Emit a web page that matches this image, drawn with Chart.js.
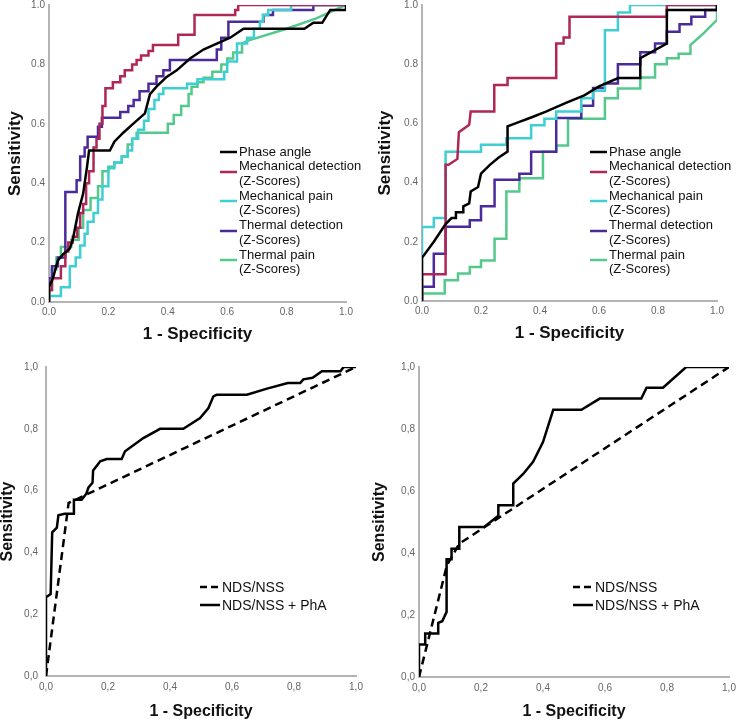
<!DOCTYPE html>
<html>
<head>
<meta charset="utf-8">
<script src="https://cdn.jsdelivr.net/npm/chart.js@4.4.1/dist/chart.umd.min.js"></script>
<style>
  body { margin: 0; background: #fff; width: 737px; height: 725px; position: relative; overflow: hidden; font-family: "Liberation Sans", Arial, sans-serif; }
  .panel { position: absolute; }
  .panel canvas { display: block; }
  .legend { position: absolute; color: #111; }
  .entry { position: relative; white-space: nowrap; }
  .entry svg { position: absolute; left: 0; }
</style>
</head>
<body>
<div class="panel" style="left:0;top:0"><canvas id="c1" width="360" height="352"></canvas><div class="legend" id="l1"></div></div>
<div class="panel" style="left:370px;top:0"><canvas id="c2" width="360" height="351"></canvas><div class="legend" id="l2"></div></div>
<div class="panel" style="left:0;top:360px"><canvas id="c3" width="366" height="360"></canvas><div class="legend" id="l3"></div></div>
<div class="panel" style="left:370px;top:360px"><canvas id="c4" width="367" height="360"></canvas><div class="legend" id="l4"></div></div>
<script>
// tick labels
const ticksDot = ['0.0', '0.2', '0.4', '0.6', '0.8', '1.0'];
const ticksComma = ['0,0', '0,2', '0,4', '0,6', '0,8', '1,0'];

// series names (top row) and colours
const qstNames = [['Phase angle'], ['Mechanical detection', '(Z-Scores)'], ['Mechanical pain', '(Z-Scores)'], ['Thermal detection', '(Z-Scores)'], ['Thermal pain', '(Z-Scores)']];
const qstColors = ['#000000', '#ae2756', '#3fcfd2', '#4b2b9c', '#55c98c'];
const ndsNames = ['NDS/NSS', 'NDS/NSS + PhA'];

// top left panel: [1 - specificity, sensitivity]
const aPhase = [[0,0],[0,0.05],[0.013,0.08],[0.03,0.14],[0.047,0.16],[0.07,0.18],[0.08,0.21],[0.098,0.30],[0.115,0.365],[0.128,0.455],[0.135,0.51],[0.205,0.51],[0.22,0.54],[0.25,0.57],[0.283,0.60],[0.323,0.635],[0.34,0.70],[0.362,0.725],[0.396,0.758],[0.43,0.78],[0.475,0.82],[0.52,0.85],[0.565,0.87],[0.61,0.89],[0.655,0.92],[0.86,0.92],[0.89,0.94],[0.92,0.94],[0.936,0.966],[0.947,0.983],[1,0.983],[1,1]];
const aMechDet = [[0,0],[0,0.04],[0.01,0.04],[0.01,0.08],[0.04,0.08],[0.04,0.12],[0.055,0.12],[0.055,0.17],[0.065,0.17],[0.065,0.2],[0.08,0.2],[0.08,0.22],[0.095,0.22],[0.095,0.25],[0.105,0.25],[0.105,0.3],[0.115,0.3],[0.115,0.33],[0.125,0.33],[0.125,0.4],[0.135,0.4],[0.135,0.44],[0.15,0.44],[0.15,0.52],[0.16,0.52],[0.16,0.55],[0.17,0.55],[0.17,0.6],[0.18,0.6],[0.18,0.66],[0.19,0.66],[0.19,0.72],[0.215,0.72],[0.215,0.74],[0.24,0.74],[0.24,0.76],[0.255,0.76],[0.255,0.78],[0.28,0.78],[0.28,0.8],[0.295,0.8],[0.295,0.815],[0.31,0.815],[0.31,0.83],[0.335,0.83],[0.335,0.845],[0.35,0.845],[0.35,0.865],[0.435,0.865],[0.435,0.9],[0.49,0.9],[0.49,0.966],[0.627,0.966],[0.627,0.983],[0.637,0.983],[0.637,1],[1,1]];
const aMechPain = [[0,0],[0,0.02],[0.04,0.02],[0.04,0.05],[0.07,0.05],[0.07,0.12],[0.09,0.12],[0.09,0.15],[0.105,0.15],[0.105,0.19],[0.12,0.19],[0.12,0.23],[0.13,0.23],[0.13,0.27],[0.15,0.27],[0.15,0.30],[0.165,0.30],[0.165,0.345],[0.18,0.345],[0.18,0.39],[0.2,0.39],[0.2,0.45],[0.22,0.45],[0.22,0.47],[0.245,0.47],[0.245,0.49],[0.265,0.49],[0.265,0.51],[0.28,0.51],[0.28,0.55],[0.3,0.55],[0.3,0.58],[0.32,0.58],[0.32,0.61],[0.335,0.61],[0.335,0.65],[0.355,0.65],[0.355,0.68],[0.37,0.68],[0.37,0.70],[0.385,0.70],[0.385,0.72],[0.465,0.72],[0.465,0.735],[0.5,0.735],[0.5,0.75],[0.59,0.75],[0.59,0.775],[0.6,0.775],[0.6,0.81],[0.633,0.81],[0.633,0.87],[0.667,0.87],[0.667,0.89],[0.69,0.89],[0.69,0.92],[0.71,0.92],[0.71,0.944],[0.72,0.944],[0.72,0.966],[0.738,0.966],[0.738,0.983],[0.815,0.983],[0.815,1],[1,1]];
const aThermDet = [[0,0],[0,0.08],[0.01,0.08],[0.01,0.12],[0.03,0.12],[0.03,0.15],[0.055,0.15],[0.055,0.37],[0.093,0.37],[0.093,0.41],[0.105,0.41],[0.105,0.49],[0.12,0.49],[0.12,0.52],[0.13,0.52],[0.13,0.556],[0.165,0.556],[0.165,0.59],[0.178,0.59],[0.178,0.62],[0.24,0.62],[0.24,0.64],[0.267,0.64],[0.267,0.66],[0.285,0.66],[0.285,0.68],[0.305,0.68],[0.305,0.71],[0.335,0.71],[0.335,0.735],[0.362,0.735],[0.362,0.76],[0.385,0.76],[0.385,0.78],[0.407,0.78],[0.407,0.815],[0.565,0.815],[0.565,0.85],[0.58,0.85],[0.58,0.89],[0.604,0.89],[0.604,0.944],[0.722,0.944],[0.722,0.966],[0.754,0.966],[0.754,0.983],[0.89,0.983],[0.89,1],[1,1]];
const aThermPain = [[0,0],[0,0.04],[0.01,0.04],[0.01,0.11],[0.025,0.11],[0.025,0.15],[0.04,0.15],[0.04,0.185],[0.075,0.185],[0.075,0.21],[0.1,0.21],[0.1,0.25],[0.115,0.25],[0.115,0.31],[0.14,0.31],[0.14,0.35],[0.165,0.35],[0.165,0.39],[0.18,0.39],[0.18,0.44],[0.2,0.44],[0.2,0.455],[0.22,0.455],[0.22,0.47],[0.245,0.47],[0.245,0.49],[0.265,0.49],[0.265,0.53],[0.28,0.53],[0.28,0.55],[0.295,0.55],[0.295,0.57],[0.4,0.57],[0.4,0.6],[0.42,0.6],[0.42,0.63],[0.445,0.63],[0.445,0.66],[0.47,0.66],[0.47,0.7],[0.48,0.7],[0.48,0.725],[0.5,0.725],[0.5,0.74],[0.52,0.74],[0.52,0.755],[0.55,0.755],[0.55,0.775],[0.58,0.775],[0.58,0.8],[0.6,0.8],[0.6,0.82],[0.62,0.82],[0.62,0.84],[0.65,0.84],[0.65,0.87],[0.67,0.88],[0.8,0.92],[0.9,0.955],[1,1]];

// top right panel
const bPhase = [[0,0],[0,0.146],[0.04,0.2],[0.08,0.26],[0.1,0.28],[0.115,0.28],[0.115,0.3],[0.14,0.3],[0.14,0.32],[0.16,0.33],[0.165,0.37],[0.19,0.385],[0.2,0.43],[0.23,0.46],[0.26,0.485],[0.29,0.505],[0.29,0.59],[0.33,0.605],[0.37,0.62],[0.42,0.64],[0.49,0.67],[0.55,0.695],[0.6,0.725],[0.665,0.753],[0.74,0.753],[0.74,0.82],[0.83,0.87],[0.83,0.983],[1,0.983],[1,1]];
const bMechDet = [[0,0],[0,0.09],[0.08,0.09],[0.08,0.46],[0.09,0.46],[0.12,0.48],[0.125,0.57],[0.16,0.595],[0.165,0.64],[0.245,0.64],[0.245,0.73],[0.29,0.73],[0.29,0.753],[0.455,0.753],[0.455,0.87],[0.48,0.87],[0.48,0.89],[0.5,0.89],[0.5,0.96],[0.83,0.96],[0.83,1],[1,1]];
const bMechPain = [[0,0],[0,0.25],[0.04,0.25],[0.04,0.28],[0.08,0.28],[0.08,0.504],[0.2,0.504],[0.2,0.528],[0.286,0.528],[0.286,0.55],[0.37,0.55],[0.37,0.594],[0.415,0.594],[0.415,0.616],[0.455,0.616],[0.455,0.64],[0.54,0.64],[0.54,0.685],[0.58,0.685],[0.58,0.71],[0.62,0.71],[0.62,0.915],[0.664,0.915],[0.664,0.975],[0.705,0.975],[0.705,1],[1,1]];
const bThermDet = [[0,0],[0,0.048],[0.04,0.048],[0.04,0.16],[0.08,0.16],[0.08,0.251],[0.162,0.251],[0.162,0.273],[0.2,0.273],[0.2,0.32],[0.246,0.32],[0.246,0.41],[0.33,0.41],[0.33,0.43],[0.37,0.43],[0.37,0.504],[0.455,0.504],[0.455,0.618],[0.54,0.618],[0.54,0.66],[0.58,0.66],[0.58,0.72],[0.62,0.72],[0.62,0.735],[0.664,0.735],[0.664,0.80],[0.74,0.80],[0.74,0.84],[0.79,0.84],[0.79,0.87],[0.83,0.87],[0.83,0.91],[0.873,0.91],[0.873,0.935],[0.913,0.935],[0.913,0.96],[0.96,0.96],[0.96,0.983],[1,0.983],[1,1]];
const bThermPain = [[0,0],[0,0.025],[0.077,0.025],[0.077,0.07],[0.122,0.07],[0.122,0.093],[0.162,0.093],[0.162,0.115],[0.2,0.115],[0.2,0.137],[0.246,0.137],[0.246,0.21],[0.286,0.21],[0.286,0.37],[0.33,0.37],[0.33,0.415],[0.41,0.415],[0.41,0.504],[0.455,0.504],[0.455,0.525],[0.495,0.525],[0.495,0.616],[0.62,0.616],[0.62,0.685],[0.664,0.685],[0.664,0.718],[0.74,0.718],[0.74,0.755],[0.79,0.755],[0.79,0.80],[0.83,0.80],[0.83,0.82],[0.87,0.82],[0.87,0.835],[0.91,0.835],[0.91,0.865],[0.955,0.905],[1,0.95],[1,1]];

// bottom left panel
const cNds = [[0,0],[0.073,0.56],[1,1]];
const cNdsPha = [[0,0],[0,0.255],[0.015,0.265],[0.02,0.465],[0.035,0.48],[0.04,0.52],[0.06,0.525],[0.09,0.525],[0.09,0.57],[0.115,0.57],[0.13,0.59],[0.137,0.61],[0.15,0.625],[0.152,0.665],[0.175,0.695],[0.196,0.702],[0.244,0.702],[0.255,0.727],[0.314,0.77],[0.368,0.80],[0.443,0.80],[0.497,0.835],[0.524,0.867],[0.54,0.905],[0.55,0.91],[0.648,0.91],[0.713,0.93],[0.78,0.948],[0.82,0.948],[0.83,0.96],[0.86,0.965],[0.89,0.986],[0.95,0.986],[0.96,1],[1,1]];

// bottom right panel
const dNds = [[0,0],[0.09,0.36],[0.13,0.43],[1,1]];
const dNdsPha = [[0,0],[0,0.105],[0.02,0.105],[0.02,0.14],[0.062,0.14],[0.062,0.175],[0.075,0.18],[0.089,0.21],[0.089,0.38],[0.105,0.38],[0.105,0.414],[0.13,0.414],[0.13,0.484],[0.21,0.484],[0.256,0.52],[0.256,0.554],[0.304,0.554],[0.304,0.624],[0.336,0.655],[0.368,0.694],[0.4,0.758],[0.433,0.862],[0.524,0.862],[0.583,0.898],[0.717,0.898],[0.734,0.933],[0.787,0.933],[0.862,1],[1,1]];

const FONT = '"Liberation Sans", Arial, sans-serif';
const toPts = arr => arr.map(p => ({ x: p[0], y: p[1] }));

function rocChart(id, datasets, o) {
    const axis = (labels, title, pad, titlePad, fixSize) => ({
        type: 'linear', min: 0, max: 1,
        grid: { display: false, drawTicks: false },
        border: { display: true, color: '#b4b4b4', width: 2 },
        ticks: { stepSize: 0.2, padding: pad, color: '#666', font: { family: FONT, size: 10 }, callback: (v, i) => labels[i] },
        title: { display: true, text: title, color: '#111', padding: titlePad, font: { family: FONT, size: o.titleSize, weight: 'bold', lineHeight: 1 } },
        afterFit: fixSize
    });
    return new Chart(document.getElementById(id), {
        type: 'line',
        data: { datasets },
        options: {
            responsive: false, animation: false,
            layout: { padding: { left: 0, top: o.top, right: o.right, bottom: 0 } },
            plugins: { legend: { display: false }, tooltip: { enabled: false } },
            elements: { point: { radius: 0 }, line: { tension: 0, borderJoinStyle: 'miter' } },
            scales: {
                x: axis(o.labels, '1 - Specificity', o.xTickPad, { top: 0, bottom: o.xTitlePad },
                    s => { s.height = o.xHeight; s.paddingLeft = 0; s.paddingRight = 0; }),
                y: axis(o.labels, 'Sensitivity', o.yTickPad, { top: o.yTitlePad, bottom: 0 },
                    s => { s.width = o.yWidth; s.paddingTop = 0; s.paddingBottom = 0; })
            }
        }
    });
}

function qstSets(series) {
    return series.map((s, i) => ({ data: toPts(s), borderColor: qstColors[i], borderWidth: 2.5 }));
}
function ndsSets(nds, pha) {
    return [
        { data: toPts(pha), borderColor: '#000', borderWidth: 2.5 },
        { data: toPts(nds), borderColor: '#000', borderWidth: 2.5, borderDash: [8, 5] }
    ];
}

rocChart('c1', qstSets([aPhase, aMechDet, aMechPain, aThermDet, aThermPain]),
    { labels: ticksDot, titleSize: 17, top: 5, right: 14, yWidth: 49, xHeight: 50, xTickPad: 4, yTickPad: 4, xTitlePad: 9, yTitlePad: 7 });
rocChart('c2', qstSets([bPhase, bMechDet, bMechPain, bThermDet, bThermPain]),
    { labels: ticksDot, titleSize: 17, top: 5, right: 13, yWidth: 52, xHeight: 50, xTickPad: 4, yTickPad: 4, xTitlePad: 9, yTitlePad: 7 });
rocChart('c3', ndsSets(cNds, cNdsPha),
    { labels: ticksComma, titleSize: 16, top: 7, right: 10, yWidth: 46, xHeight: 44, xTickPad: 5, yTickPad: 8, xTitlePad: 0, yTitlePad: 0 });
rocChart('c4', ndsSets(dNds, dNdsPha),
    { labels: ticksComma, titleSize: 16, top: 7, right: 8, yWidth: 49, xHeight: 43, xTickPad: 5, yTickPad: 4, xTitlePad: 0, yTitlePad: 2 });

// HTML legends
function legend(id, left, firstCenter, lineH, fontSize, lineW, entries) {
    const box = document.getElementById(id);
    box.style.left = left + 'px';
    box.style.top = (firstCenter - lineH / 2) + 'px';
    box.style.font = fontSize + 'px ' + FONT;
    box.style.lineHeight = lineH + 'px';
    entries.forEach(e => {
        const div = document.createElement('div');
        div.className = 'entry';
        div.style.paddingLeft = (lineW + 2) + 'px';
        div.innerHTML = e.text.join('<br>');
        const y = e.text.length > 1 ? lineH / 2 + 5 : lineH / 2;
        div.insertAdjacentHTML('afterbegin',
            `<svg width="${lineW}" height="4" style="top:${y - 2}px"><line x1="0" y1="2" x2="${lineW}" y2="2" stroke="${e.color}" stroke-width="2.5"${e.dash ? ' stroke-dasharray="7,4"' : ''}/></svg>`);
        box.appendChild(div);
    });
}
const qstEntries = qstNames.map((t, i) => ({ text: t, color: qstColors[i] }));
const ndsEntries = [{ text: [ndsNames[0]], color: '#000', dash: true }, { text: [ndsNames[1]], color: '#000' }];
legend('l1', 220, 152, 14.7, 13, 17, qstEntries);
legend('l2', 220, 152, 14.7, 13, 17, qstEntries);
legend('l3', 200, 227, 18, 14, 20, ndsEntries);
legend('l4', 203, 227, 18, 14, 20, ndsEntries);
</script>
</body>
</html>
